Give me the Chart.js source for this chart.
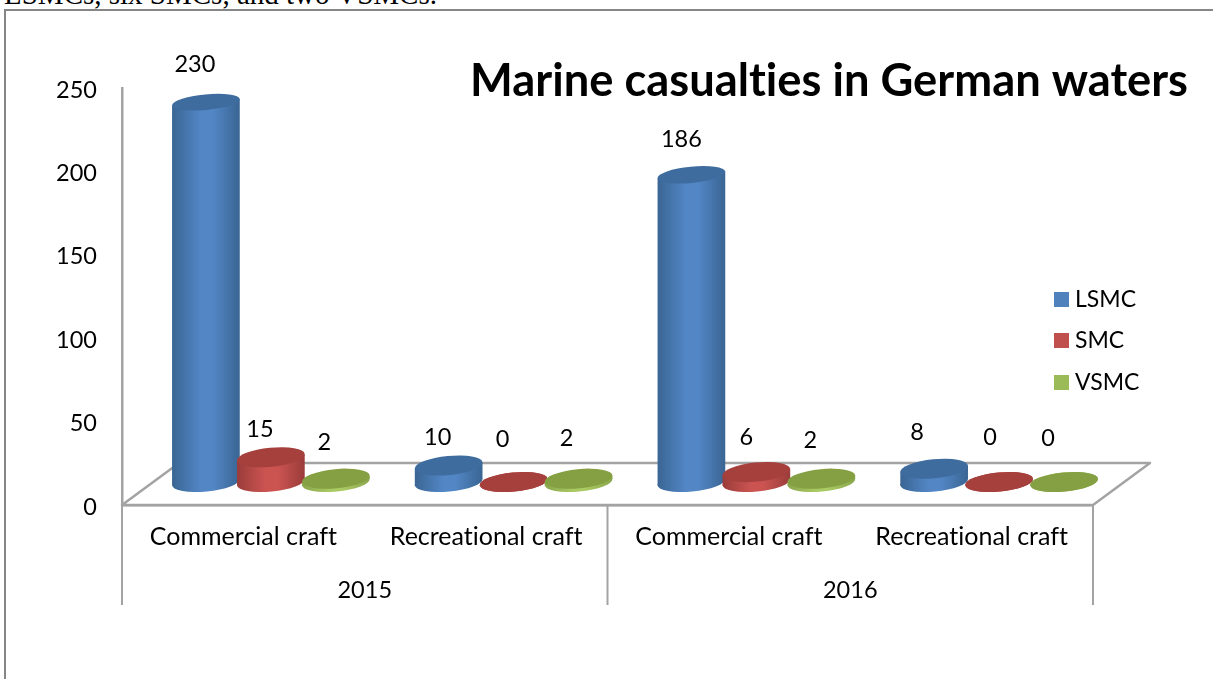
<!DOCTYPE html>
<html>
<head>
<meta charset="utf-8">
<script src="https://cdn.jsdelivr.net/npm/chart.js@4"></script>
<style>
html,body{margin:0;padding:0;background:#fff;width:1213px;height:679px;overflow:hidden}
#cap{position:absolute;left:4px;top:-22px;font:29px "Liberation Serif",serif;color:#000;white-space:nowrap}
#frame{position:absolute;left:4px;top:9px;width:1300px;height:800px;border:2px solid #868686;box-sizing:border-box}
#wrap{position:absolute;left:0;top:0;width:1213px;height:679px}
</style>
</head>
<body>
<div id="cap">LSMCs, six SMCs, and two VSMCs.</div>
<div id="frame"></div>
<div id="wrap"><canvas id="c" width="1213" height="679"></canvas></div>
<script>
const categories = ['Commercial craft','Recreational craft','Commercial craft','Recreational craft'];
const years = ['2015','2016'];
const seriesNames = ['LSMC','SMC','VSMC'];
const lsmc = [230,10,186,8];
const smc = [15,0,6,0];
const vsmc = [2,2,2,0];
const yTicks = [0,50,100,150,200,250];
const chartTitle = 'Marine casualties in German waters';

const FONT = 'Lato, "Open Sans", sans-serif';
const GREY = '#a3a3a3';
const seriesColors = ['#4f81bd','#c0504d','#9bbb59'];
const shades = {
  '#4f81bd':{edge:'#3a6593',mid:'#5286c5',top:'#3f6c9f'},
  '#c0504d':{edge:'#9a3c3a',mid:'#cb5451',top:'#a5403d'},
  '#9bbb59':{edge:'#8aa64c',mid:'#a9c962',top:'#84a043'}
};
// 3D projection of the floor
const DEPTH_X = 57, DEPTH_Y = 42, BAR_DX = 27.5, BAR_DY = 23, V_SCALE = 0.99;
const ELL_ROT = -5.5 * Math.PI / 180;
// per-label nudges relative to the projected bar top [dx, dy], by dataset then category
const nudges = [
  [[-11,-40],[-11,-31],[-10,-38],[-17,-39]],
  [[-11,-30],[-11,-45],[-10,-37],[-9,-47]],
  [[-11.5,-39],[-12,-43],[-11,-41],[-16,-46]]
];

function project(el){
  const base = el.base - BAR_DY;
  const top = base - (el.base - el.y) * V_SCALE;
  return {cx: el.x + BAR_DX, base, top};
}
// Bars are painted as cylinders, left to right, by the plugin below
Chart.BarElement.prototype.draw = function(){};
function drawCylinder(ctx, el){
  const {cx, base, top} = project(el);
  const rx = el.width / 2;
  const s = shades[el.options.backgroundColor];
  const cos = Math.cos(ELL_ROT), sin = Math.sin(ELL_ROT);
  const ryBase = 9.6;
  const ryTop = ryBase - 1.8 * (base - top) / 380;   // ends flatten slightly with height
  const g = ctx.createLinearGradient(cx - rx, 0, cx + rx, 0);
  g.addColorStop(0, s.edge);
  g.addColorStop(0.42, s.mid); g.addColorStop(0.6, s.mid);
  g.addColorStop(1, s.edge);
  const tips = ry => {
    const tx = Math.sqrt(rx*rx*cos*cos + ry*ry*sin*sin);
    return {tx, ty:(rx*rx - ry*ry) * sin * cos / tx};
  };
  const a = tips(ryBase), b = tips(ryTop);
  ctx.save();
  ctx.fillStyle = g;
  ctx.beginPath();
  ctx.ellipse(cx, base, rx, ryBase, ELL_ROT, 0, Math.PI*2);
  ctx.fill();
  ctx.beginPath();
  ctx.moveTo(cx - a.tx, base - a.ty);
  ctx.lineTo(cx - b.tx, top - b.ty);
  ctx.lineTo(cx + b.tx, top + b.ty);
  ctx.lineTo(cx + a.tx, base + a.ty);
  ctx.closePath();
  ctx.fill();
  ctx.fillStyle = s.top;
  ctx.beginPath();
  ctx.ellipse(cx, top, rx, ryTop, ELL_ROT, 0, Math.PI*2);
  ctx.fill();
  ctx.restore();
}

const chart3d = {
  id:'chart3d',
  beforeDraw(chart){
    chart.ctx.textRendering = 'optimizeSpeed';
  },
  beforeDatasetsDraw(chart){
    const {ctx, chartArea:a} = chart;
    ctx.save();
    ctx.strokeStyle = GREY; ctx.lineWidth = 2.5; ctx.lineJoin = 'round';
    ctx.beginPath();
    ctx.moveTo(a.left, a.bottom);
    ctx.lineTo(a.left + DEPTH_X, a.bottom - DEPTH_Y);
    ctx.lineTo(a.right + DEPTH_X, a.bottom - DEPTH_Y);
    ctx.lineTo(a.right, a.bottom);
    ctx.closePath();
    ctx.stroke();
    // multi-level category separators
    const x2 = chart.scales.x2;
    const edges = [a.left, (a.left + a.right) / 2, a.right];
    ctx.lineWidth = 2;
    edges.forEach(x => {
      ctx.beginPath(); ctx.moveTo(x, a.bottom); ctx.lineTo(x, x2.bottom - 74); ctx.stroke();
    });
    ctx.restore();
  },
  afterDatasetsDraw(chart){
    const {ctx} = chart;
    chart.data.datasets.forEach((ds, i) => {
      chart.getDatasetMeta(i).data.forEach(el => drawCylinder(ctx, el));
    });
    ctx.save();
    ctx.fillStyle = '#000';
    ctx.textAlign = 'center'; ctx.textBaseline = 'middle';
    ctx.font = '23.5px ' + FONT;
    chart.data.datasets.forEach((ds, i) => {
      chart.getDatasetMeta(i).data.forEach((el, j) => {
        const p = project(el);
        ctx.fillText(String(ds.data[j]), p.cx + nudges[i][j][0], p.top + nudges[i][j][1] + 2.5);
      });
    });
    // title
    ctx.font = 'bold 45.3px ' + FONT;
    ctx.textAlign = 'right';
    ctx.textBaseline = 'alphabetic';
    ctx.fillText(chartTitle, 1188, 95.5);
    // legend
    ctx.font = '23px ' + FONT;
    ctx.textAlign = 'left';
    ctx.textBaseline = 'middle';
    chart.data.datasets.forEach((ds, i) => {
      const y = [299.5, 340.5, 382.5][i];
      ctx.fillStyle = ds.backgroundColor;
      ctx.fillRect(1054, y - 7.5, 15, 15);
      ctx.fillStyle = '#000';
      ctx.fillText(ds.label, 1075, y);
    });
    ctx.restore();
  }
};

new Chart(document.getElementById('c'), {
  type:'bar',
  data:{
    labels:categories,
    datasets:[
      {label:seriesNames[0], data:lsmc, backgroundColor:seriesColors[0]},
      {label:seriesNames[1], data:smc, backgroundColor:seriesColors[1]},
      {label:seriesNames[2], data:vsmc, backgroundColor:seriesColors[2]}
    ]
  },
  plugins:[chart3d],
  options:{
    responsive:false, animation:false,
    layout:{padding:{top:88,right:120,left:0,bottom:0}},
    datasets:{bar:{categoryPercentage:0.803,barPercentage:1.046}},
    plugins:{legend:{display:false},tooltip:{enabled:false},title:{display:false,text:chartTitle}},
    scales:{
      y:{
        min:0,max:250,
        afterBuildTicks(s){ s.ticks = yTicks.map(v => ({value:v})); },
        afterFit(s){ s.width = 122; },
        grid:{display:false,drawTicks:false},
        border:{display:true,color:GREY,width:2.5},
        ticks:{color:'#000',padding:25,labelOffset:2,font:{family:FONT,size:23.5}}
      },
      x:{
        afterFit(s){ s.height = 58; },
        grid:{display:false,drawTicks:false},
        border:{display:true,color:GREY,width:2.5},
        ticks:{color:'#000',padding:17,maxRotation:0,autoSkip:false,font:{family:FONT,size:25}}
      },
      x2:{
        type:'category',labels:years,position:'bottom',offset:true,
        afterFit(s){ s.height = 116; },
        grid:{display:false,drawTicks:false},
        border:{display:false},
        ticks:{color:'#000',padding:13,maxRotation:0,autoSkip:false,font:{family:FONT,size:23.5}}
      }
    }
  }
});
</script>
</body>
</html>
